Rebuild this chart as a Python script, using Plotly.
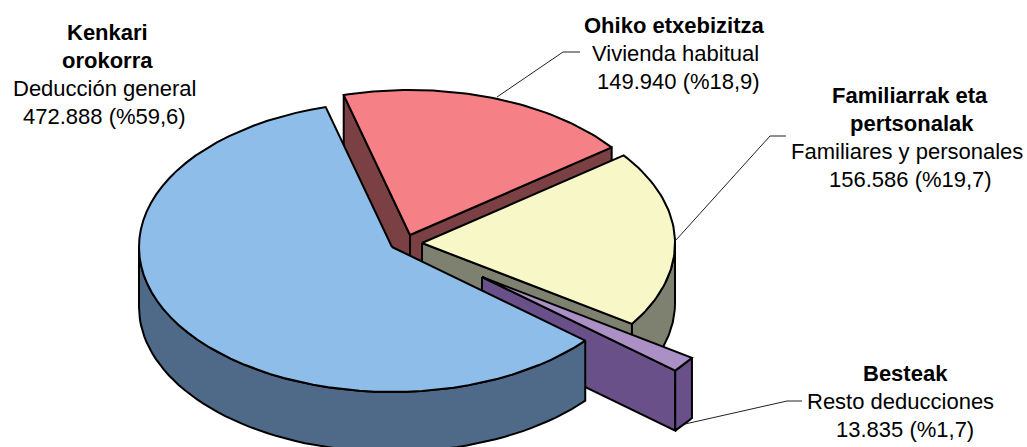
import math
import plotly.graph_objects as go

# --- data ---
names_eu = ["Kenkari|orokorra", "Ohiko etxebizitza", "Familiarrak eta|pertsonalak", "Besteak"]
names_es = ["Deducción general", "Vivienda habitual", "Familiares y personales", "Resto deducciones"]
values = [472888, 149940, 156586, 13835]
value_labels = ["472.888 (%59,6)", "149.940 (%18,9)", "156.586 (%19,7)", "13.835 (%1,7)"]

# --- styles / layout ---
top_colors = ["#8DBDE8", "#F58085", "#F8F7C8", "#AB90C5"]
side_colors = ["#4F6A88", "#7A4044", "#7E8070", "#6A5088"]
apexes = [(392, 247), (410, 235), (422, 243), (482, 277)]
RX, RY, DEPTH = 253, 145, 60
FIRST_ANGLE = 130.2  # blue slice start, clockwise from 12 o'clock
label_cx = [[107, 107, 104, 104], [674, 675, 678], [910, 912, 907, 910], [905, 900, 905]]
label_top = [32, 25, 95, 373]
LINE_H = 28
FONT = "Liberation Sans, Arial, sans-serif"
FONT_SIZE = 22
leaders = [None,
           [(497, 97), (563, 52), (580, 52)],
           [(676, 240), (770, 136), (786, 136)],
           [(685, 424), (787, 401), (802, 401)]]

total = sum(values)
spans = [v / total * 360 for v in values]
# angular ranges clockwise from 12 o'clock
ranges = {}
a0 = FIRST_ANGLE
for i in range(4):
    ranges[i] = (a0, a0 + spans[i])
    a0 += spans[i]


def pt(i, ang, dz=0):
    cx, cy = apexes[i]
    t = math.radians(ang)
    return cx + RX * math.sin(t), cy - RY * math.cos(t) + dz


def arc(i, a, b, dz=0, n=60):
    return [pt(i, a + (b - a) * k / n, dz) for k in range(n + 1)]


fig = go.Figure()


def poly(points, color):
    xs = [p[0] for p in points] + [points[0][0]]
    ys = [p[1] for p in points] + [points[0][1]]
    fig.add_trace(go.Scatter(x=xs, y=ys, mode="lines", fill="toself", fillcolor=color,
                             line=dict(color="black", width=2), hoverinfo="skip", showlegend=False))


def radial_wall(i, ang):
    cx, cy = apexes[i]
    e = pt(i, ang)
    poly([(cx, cy), e, (e[0], e[1] + DEPTH), (cx, cy + DEPTH)], side_colors[i])


def outer_wall(i, a, b):
    poly(arc(i, a, b) + arc(i, b, a, DEPTH), side_colors[i])


def top(i):
    a, b = ranges[i]
    poly([apexes[i]] + arc(i, a, b), top_colors[i])


# back to front: red, yellow, purple, blue
radial_wall(1, ranges[1][0])
radial_wall(1, ranges[1][1])
top(1)
radial_wall(2, ranges[2][1])
outer_wall(2, 450, ranges[2][1])
top(2)
radial_wall(3, ranges[3][1])
outer_wall(3, ranges[3][0], ranges[3][1])
top(3)
outer_wall(0, ranges[0][0], 270)
top(0)

for path in leaders:
    if path:
        fig.add_trace(go.Scatter(x=[p[0] for p in path], y=[p[1] for p in path], mode="lines",
                                 line=dict(color="#222222", width=1), hoverinfo="skip", showlegend=False))

annotations = []
for i in range(4):
    lines = [(t, True) for t in names_eu[i].split("|")] + [(names_es[i], False), (value_labels[i], False)]
    for k, (t, bold) in enumerate(lines):
        annotations.append(dict(x=label_cx[i][k], y=label_top[i] + k * LINE_H, text=f"<b>{t}</b>" if bold else t,
                                showarrow=False, xanchor="center", yanchor="middle",
                                font=dict(family=FONT, size=FONT_SIZE, color="black")))

fig.update_layout(width=1027, height=447, margin=dict(l=0, r=0, t=0, b=0),
                  paper_bgcolor="white", plot_bgcolor="white", annotations=annotations,
                  xaxis=dict(range=[0, 1027], visible=False, fixedrange=True),
                  yaxis=dict(range=[447, 0], visible=False, fixedrange=True))
fig.write_html("out.html", config={"displayModeBar": False},
               post_script="document.body.style.margin='0';document.body.style.overflow='hidden';")
